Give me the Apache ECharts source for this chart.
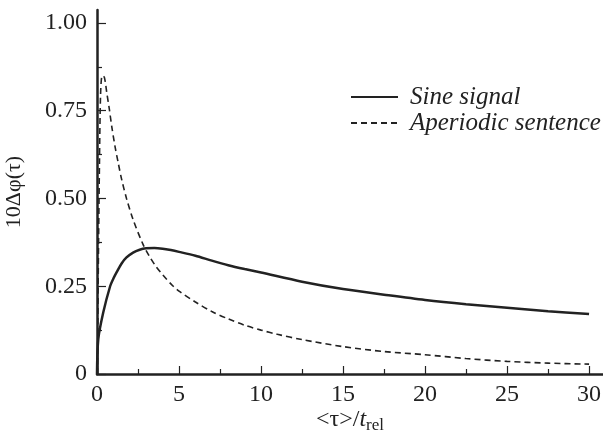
<!DOCTYPE html>
<html>
<head>
<meta charset="utf-8">
<script src="https://cdn.jsdelivr.net/npm/echarts@6/dist/echarts.min.js"></script>
<style>html,body{margin:0;padding:0;background:#fff}#c{width:603px;height:436px}</style>
</head>
<body>
<div id="c"></div>
<script>
// Sine signal (solid)
const sineX = [0, 0.08, 0.38, 0.8, 1.0, 1.2, 1.5, 1.8, 2.2, 2.6, 3.0, 3.5, 4.0, 4.5, 5.0, 6.0, 7.0, 8.0, 9.0, 10, 12.5, 15, 17.5, 20, 22.5, 25, 27.5, 30];
const sineY = [0, 0.1, 0.175, 0.25, 0.272, 0.29, 0.315, 0.332, 0.346, 0.354, 0.358, 0.359, 0.357, 0.353, 0.348, 0.337, 0.323, 0.31, 0.299, 0.289, 0.263, 0.242, 0.226, 0.211, 0.199, 0.189, 0.179, 0.171];
// Aperiodic sentence (dashed)
const aperX = [0.03, 0.08, 0.15, 0.22, 0.32, 0.45, 0.6, 0.75, 0.9, 1.1, 1.3, 1.5, 1.8, 2.2, 2.8, 3.2, 3.6, 4.0, 4.6, 5.0, 6.0, 7.0, 8.0, 9.0, 10, 11, 12.5, 15, 17.5, 20, 22.5, 25, 27.5, 30];
const aperY = [0, 0.3, 0.6, 0.8, 0.85, 0.845, 0.8, 0.755, 0.705, 0.648, 0.6, 0.555, 0.5, 0.44, 0.37, 0.335, 0.306, 0.283, 0.252, 0.236, 0.205, 0.178, 0.157, 0.139, 0.125, 0.113, 0.098, 0.078, 0.064, 0.055, 0.044, 0.036, 0.031, 0.028];
const xMajorTicks = [0, 5, 10, 15, 20, 25, 30];
const xMinorTicks = [2.5, 7.5, 12.5, 17.5, 22.5, 27.5];
const yMajorTicks = [0, 0.25, 0.5, 0.75, 1.0];
const yMinorTicks = [0.125, 0.375, 0.625, 0.875];
const seriesNames = ['Sine signal', 'Aperiodic sentence'];

const ink = '#222';
const serif = '"Liberation Serif", "DejaVu Serif", serif';
const zip = (xs, ys) => xs.map((x, i) => [x, ys[i]]);
const X_MAX = 30.85, Y_MAX = 1.037;

const chart = echarts.init(document.getElementById('c'), null, {renderer: 'canvas'});
chart.setOption({
  animation: false,
  backgroundColor: '#fff',
  grid: {left: 97, right: 0, top: 10, bottom: 62, containLabel: false, outerBoundsMode: 'none'},
  legend: {
    left: 350, top: 84, padding: 0, orient: 'vertical', itemWidth: 47, itemHeight: 14, itemGap: 0,
    itemStyle: {opacity: 0},
    textStyle: {fontFamily: serif, fontStyle: 'italic', fontSize: 25, color: ink, lineHeight: 26, padding: [0, 0, 0, 7]},
    data: seriesNames
  },
  xAxis: [{
    type: 'value', min: 0, max: X_MAX, position: 'bottom',
    name: '<τ>/{i|t}{sub|rel}', nameLocation: 'middle', nameGap: 32, nameMoveOverlap: false,
    nameTextStyle: {fontFamily: serif, fontSize: 24, color: ink, lineHeight: 28,
      rich: {i: {fontFamily: serif, fontStyle: 'italic', fontSize: 24, color: ink, lineHeight: 28},
             sub: {fontFamily: serif, fontSize: 17, color: ink, lineHeight: 28, verticalAlign: 'bottom'}}},
    axisLine: {onZero: false, lineStyle: {color: ink, width: 2.5}},
    axisTick: {inside: true, length: 8, lineStyle: {color: ink, width: 1.2}, customValues: xMajorTicks},
    axisLabel: {customValues: xMajorTicks, fontFamily: serif, fontSize: 24, color: ink, margin: 9},
    splitLine: {show: false}
  }, {
    type: 'value', min: 0, max: X_MAX, position: 'bottom',
    axisLine: {show: false, onZero: false},
    axisTick: {inside: true, length: 5, lineStyle: {color: ink, width: 1.2}, customValues: xMinorTicks},
    axisLabel: {show: false}, splitLine: {show: false}
  }],
  yAxis: [{
    type: 'value', min: 0, max: Y_MAX, position: 'left',
    name: '10Δφ(τ)', nameLocation: 'middle', nameGap: 72, nameRotate: 90, nameMoveOverlap: false,
    nameTextStyle: {fontFamily: serif, fontSize: 22, color: ink},
    axisLine: {onZero: false, lineStyle: {color: ink, width: 2.5}},
    axisTick: {inside: true, length: 9, lineStyle: {color: ink, width: 1.2}, customValues: yMajorTicks},
    axisLabel: {customValues: yMajorTicks, fontFamily: serif, fontSize: 24, color: ink, margin: 10,
      formatter: v => v === 0 ? '0' : v.toFixed(2)},
    splitLine: {show: false}
  }, {
    type: 'value', min: 0, max: Y_MAX, position: 'left',
    axisLine: {show: false, onZero: false},
    axisTick: {inside: true, length: 5, lineStyle: {color: ink, width: 1.2}, customValues: yMinorTicks},
    axisLabel: {show: false}, splitLine: {show: false}
  }],
  series: [{
    name: seriesNames[0], type: 'line', xAxisIndex: 0, yAxisIndex: 0,
    data: zip(sineX, sineY), smooth: 0.3, symbol: 'none',
    lineStyle: {color: ink, width: 2.5}, itemStyle: {color: ink}
  }, {
    name: seriesNames[1], type: 'line', xAxisIndex: 0, yAxisIndex: 0,
    data: zip(aperX, aperY), smooth: 0.3, symbol: 'none',
    lineStyle: {color: ink, width: 1.6, type: [6, 4]}, itemStyle: {color: ink}
  }]
});
</script>
</body>
</html>
